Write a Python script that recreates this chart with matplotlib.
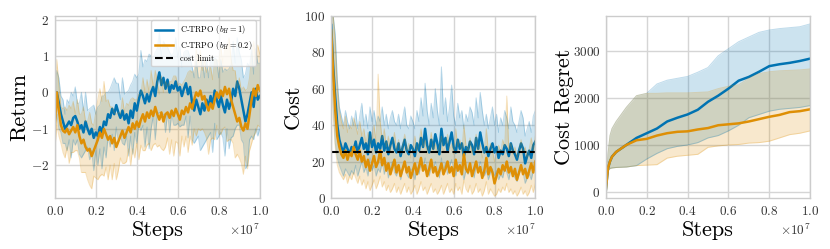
import numpy as np
import matplotlib
matplotlib.use("Agg")
import matplotlib.pyplot as plt

# steps in units of 1e7
steps = np.linspace(0, 1, 101)

ret_blue = [-0.4, 0.0, -0.3, -0.6, -0.8, -1.0, -0.9, -0.8, -0.9, -0.7,
            -0.65, -0.8, -1.0, -0.9, -1.1, -0.8, -1.0, -1.15, -1.0, -1.25,
            -1.1, -1.2, -0.95, -1.1, -0.8, -0.9, -0.6, -0.7, -0.45, -0.6,
            -0.35, -0.55, -0.7, -0.5, -0.75, -0.6, -0.85, -0.5, -0.7, -0.3,
            -0.5, -0.2, 0.05, -0.1, -0.3, -0.05, -0.25, 0.0, 0.15, -0.1,
            0.3, 0.55, 0.2, 0.4, 0.1, 0.35, 0.0, 0.2, 0.1, 0.3,
            0.05, 0.15, -0.1, 0.1, 0.25, -0.05, 0.15, -0.3, -0.5, -0.2,
            -0.4, -0.6, -0.3, -0.5, -0.2, -0.4, -0.1, -0.35, 0.05, -0.2,
            -0.4, -0.1, -0.35, -0.55, -0.2, -0.45, -0.25, 0.1, -0.1, 0.3,
            0.1, -0.2, -0.5, -0.8, -0.6, -0.3, 0.0, -0.4, 0.1, -0.2,
            -0.1]
ret_blue_spread = [0.5, 0.6, 0.7, 0.5, 0.6, 0.4, 0.7, 0.5, 0.9, 0.6,
                   0.8, 0.5, 0.7, 0.9, 0.6, 0.8, 0.5, 0.7, 0.6, 0.9,
                   0.5, 0.8, 0.6, 1.0, 0.7, 0.9, 0.6, 0.8, 0.7, 1.0,
                   0.6, 0.8, 0.5, 0.9, 0.7, 0.6, 0.9, 0.7, 1.0, 0.8,
                   0.9, 0.7, 1.1, 0.8, 1.2, 0.9, 1.3, 1.0, 0.8, 1.2,
                   0.9, 1.1, 0.8, 1.0, 1.2, 0.9, 1.1, 0.8, 1.0, 1.2,
                   0.9, 1.1, 0.8, 1.0, 0.9, 1.2, 0.8, 1.0, 0.9, 1.1,
                   0.8, 1.0, 1.2, 0.9, 1.1, 0.8, 1.0, 1.3, 0.9, 1.1,
                   0.8, 1.0, 0.9, 1.2, 0.8, 1.1, 1.0, 1.3, 0.9, 1.2,
                   1.0, 1.1, 0.9, 1.3, 1.4, 1.0, 1.2, 0.9, 1.1, 1.0,
                   0.9]
ret_orange = [-1.0, 0.0, -0.5, -0.9, -1.05, -1.1, -1.0, -1.15, -1.05, -0.95,
              -1.1, -0.9, -1.2, -1.4, -1.3, -1.5, -1.6, -1.55, -1.75, -1.6,
              -1.45, -1.3, -1.1, -1.25, -1.0, -1.15, -1.3, -1.2, -1.4, -1.25,
              -1.5, -1.35, -1.2, -1.05, -1.25, -1.1, -0.95, -1.1, -0.85, -1.0,
              -0.8, -0.95, -0.75, -0.6, -0.8, -0.55, -0.7, -0.5, -0.65, -0.4,
              -0.6, -0.75, -0.55, -0.8, -0.6, -0.55, -0.7, -0.5, -0.65, -0.45,
              -0.6, -0.75, -0.5, -0.6, -0.4, -0.55, -0.3, -0.45, -0.2, 0.0,
              -0.1, 0.05, -0.2, -0.1, -0.35, -0.5, -0.3, -0.45, -0.2, 0.0,
              -0.15, 0.05, -0.1, 0.15, -0.05, 0.1, -0.2, -0.4, -0.6, -0.8,
              -0.7, -0.95, -1.05, -0.85, -1.0, -0.6, -0.2, 0.1, -0.1, 0.2,
              0.05]
ret_orange_spread = [0.6, 0.9, 0.7, 0.5, 0.6, 0.7, 0.5, 0.8, 0.6, 0.7,
                     0.5, 0.7, 0.6, 0.8, 0.9, 0.7, 0.8, 1.0, 0.9, 0.7,
                     0.9, 1.1, 1.2, 1.0, 1.3, 0.9, 1.1, 0.8, 1.0, 0.7,
                     0.9, 0.8, 0.6, 0.9, 0.7, 0.8, 0.6, 0.9, 0.7, 0.8,
                     0.6, 0.9, 0.7, 1.0, 0.8, 0.9, 0.7, 1.1, 0.8, 1.0,
                     0.9, 0.7, 1.0, 0.8, 0.9, 0.7, 1.0, 0.8, 1.1, 0.9,
                     0.8, 1.0, 0.7, 0.9, 0.8, 1.1, 0.9, 1.0, 0.8, 1.2,
                     0.9, 1.1, 0.8, 1.0, 0.9, 1.2, 1.0, 0.8, 1.1, 0.9,
                     1.0, 1.2, 0.9, 1.1, 1.3, 1.4, 1.1, 1.0, 1.2, 0.9,
                     1.1, 1.0, 1.2, 0.9, 1.1, 1.0, 1.2, 1.3, 1.0, 1.1,
                     1.0]

cost_blue = [95, 72, 55, 40, 32, 28, 25, 30, 27, 24,
             28, 26, 31, 25, 29, 33, 27, 30, 24, 36,
             28, 32, 25, 30, 27, 34, 26, 31, 24, 29,
             33, 27, 25, 30, 23, 28, 32, 26, 24, 29,
             27, 23, 30, 26, 33, 28, 38, 29, 25, 32,
             27, 35, 30, 24, 38, 29, 33, 26, 31, 36,
             28, 25, 32, 27, 30, 23, 28, 26, 31, 29,
             24, 33, 27, 36, 30, 25, 28, 23, 27, 30,
             25, 28, 22, 26, 24, 29, 27, 23, 30, 26,
             24, 21, 26, 30, 27, 19, 23, 26, 22, 29,
             31]
cost_blue_hi = [100, 100, 90, 65, 50, 45, 40, 48, 42, 38,
                45, 40, 48, 38, 45, 52, 40, 46, 38, 50,
                42, 48, 40, 45, 42, 50, 40, 46, 38, 44,
                48, 42, 40, 46, 38, 44, 50, 40, 38, 45,
                42, 38, 48, 42, 55, 45, 63, 48, 40, 52,
                44, 60, 48, 40, 72, 46, 55, 42, 50, 62,
                45, 40, 52, 44, 48, 38, 46, 42, 50, 47,
                40, 55, 44, 58, 48, 40, 46, 38, 44, 50,
                40, 46, 36, 44, 40, 48, 44, 38, 50, 42,
                40, 36, 42, 48, 44, 34, 38, 42, 36, 45,
                48]
cost_blue_lo = [85, 50, 30, 22, 18, 15, 12, 16, 14, 12,
                15, 13, 18, 12, 16, 20, 14, 17, 12, 22,
                15, 18, 12, 16, 14, 20, 13, 18, 11, 16,
                20, 14, 12, 17, 10, 15, 19, 13, 11, 16,
                14, 10, 17, 13, 19, 15, 22, 16, 12, 18,
                14, 20, 16, 11, 22, 15, 19, 13, 17, 21,
                15, 12, 18, 14, 16, 10, 15, 13, 17, 15,
                11, 18, 14, 20, 16, 12, 15, 10, 14, 16,
                12, 15, 10, 13, 11, 16, 14, 10, 16, 13,
                11, 9, 13, 16, 14, 8, 11, 13, 10, 15,
                17]
cost_orange = [92, 68, 48, 34, 28, 24, 22, 26, 21, 25,
               23, 28, 24, 21, 26, 20, 23, 17, 21, 15,
               19, 23, 17, 20, 26, 18, 22, 15, 19, 13,
               17, 21, 14, 18, 12, 16, 20, 14, 17, 11,
               15, 19, 13, 17, 22, 15, 18, 12, 16, 21,
               14, 17, 12, 15, 19, 13, 16, 20, 14, 17,
               12, 21, 15, 18, 13, 24, 16, 14, 19, 12,
               16, 20, 14, 17, 11, 15, 22, 13, 17, 14,
               8, 12, 16, 13, 18, 15, 20, 14, 17, 12,
               16, 10, 14, 18, 13, 16, 11, 15, 19, 14,
               20]
cost_orange_hi = [100, 100, 85, 60, 48, 42, 38, 45, 36, 40,
                  38, 44, 40, 35, 42, 34, 38, 30, 36, 28,
                  34, 40, 30, 68, 42, 32, 38, 28, 34, 26,
                  30, 36, 26, 32, 24, 29, 35, 26, 30, 22,
                  27, 34, 25, 30, 38, 28, 32, 24, 29, 36,
                  26, 30, 24, 28, 34, 25, 29, 35, 26, 30,
                  24, 38, 28, 32, 25, 40, 29, 26, 33, 24,
                  28, 35, 26, 30, 22, 27, 38, 25, 30, 26,
                  20, 24, 29, 25, 32, 28, 56, 26, 30, 24,
                  28, 22, 26, 32, 25, 28, 22, 27, 33, 26,
                  34]
cost_orange_lo = [80, 45, 28, 18, 14, 12, 10, 13, 8, 12,
                  10, 14, 11, 8, 12, 7, 10, 5, 9, 4,
                  7, 10, 5, 8, 12, 6, 9, 4, 7, 3,
                  5, 8, 3, 6, 2, 5, 8, 3, 6, 2,
                  4, 7, 2, 5, 9, 4, 6, 2, 5, 8,
                  3, 5, 2, 4, 7, 2, 5, 8, 3, 5,
                  2, 8, 4, 6, 2, 10, 5, 3, 7, 2,
                  4, 8, 3, 5, 1, 4, 9, 2, 5, 3,
                  1, 2, 5, 3, 6, 4, 8, 3, 5, 2,
                  4, 1, 3, 6, 2, 4, 1, 3, 7, 3,
                  8]
cost_limit = 25

reg_steps = [0, 0.01, 0.02, 0.03, 0.05, 0.1, 0.15, 0.2, 0.25, 0.3, 0.35, 0.4,
             0.45, 0.5, 0.55, 0.6, 0.65, 0.7, 0.75, 0.8, 0.85, 0.9, 0.95, 1.0]
reg_blue = [50, 500, 650, 750, 850, 1000, 1150, 1250, 1350, 1500, 1580, 1650,
            1750, 1920, 2050, 2200, 2370, 2450, 2560, 2680, 2720, 2750, 2790, 2840]
reg_blue_hi = [50, 800, 1200, 1350, 1500, 1800, 2050, 2100, 2300, 2380, 2420, 2460,
               2550, 2650, 2900, 3050, 3200, 3300, 3400, 3450, 3480, 3500, 3520, 3580]
reg_blue_lo = [50, 450, 500, 510, 520, 530, 560, 700, 820, 920, 970, 1000,
               1050, 1150, 1200, 1300, 1420, 1580, 1650, 1720, 1760, 1780, 1800, 1840]
reg_orange = [50, 500, 650, 750, 850, 1000, 1100, 1130, 1200, 1250, 1280, 1290,
              1330, 1360, 1420, 1440, 1460, 1500, 1550, 1600, 1640, 1700, 1720, 1760]
reg_orange_hi = [50, 800, 1200, 1350, 1500, 1800, 2050, 2100, 2100, 2110, 2110, 2110,
                 2120, 2130, 2200, 2250, 2280, 2420, 2520, 2560, 2580, 2590, 2600, 2620]
reg_orange_lo = [50, 450, 500, 510, 520, 530, 560, 570, 580, 720, 760, 780,
                 800, 950, 980, 1000, 1010, 1040, 1050, 1080, 1150, 1220, 1250, 1300]

BLUE = '#0173b2'
ORANGE = '#de8f05'

plt.rcParams['font.family'] = 'serif'
plt.rcParams['font.serif'] = ['cmr10']
plt.rcParams['mathtext.fontset'] = 'cm'
plt.rcParams['axes.formatter.use_mathtext'] = True
plt.rcParams['axes.edgecolor'] = '#cccccc'
plt.rcParams['axes.linewidth'] = 1.0
plt.rcParams['grid.color'] = '#d5d5d5'
plt.rcParams['xtick.color'] = '#333333'
plt.rcParams['ytick.color'] = '#333333'
plt.rcParams['xtick.labelsize'] = 9.5
plt.rcParams['ytick.labelsize'] = 9.5
plt.rcParams['xtick.major.size'] = 0
plt.rcParams['ytick.major.size'] = 0


def band(ax, x, mean, lo, hi, color):
    x = np.asarray(x) * 1e7
    ax.fill_between(x, lo, hi, color=color, alpha=0.2, lw=0)
    ax.plot(x, lo, color=color, alpha=0.25, lw=0.7)
    ax.plot(x, hi, color=color, alpha=0.25, lw=0.7)
    line, = ax.plot(x, mean, color=color, lw=1.8)
    return line


fig = plt.figure(figsize=(8.3, 2.49), dpi=100)
ax1 = fig.add_axes([0.066, 0.205, 0.247, 0.731])
ax2 = fig.add_axes([0.399, 0.205, 0.246, 0.731])
ax3 = fig.add_axes([0.730, 0.205, 0.246, 0.731])

rb = np.array(ret_blue)
ro = np.array(ret_orange)
l1 = band(ax1, steps, rb, rb - np.array(ret_blue_spread), rb + np.array(ret_blue_spread), BLUE)
l2 = band(ax1, steps, ro, ro - np.array(ret_orange_spread), ro + np.array(ret_orange_spread), ORANGE)
l3, = ax1.plot([], [], color='black', ls='--', lw=1.5)
ax1.set_ylim(-2.9, 2.1)
ax1.set_yticks([-2, -1, 0, 1, 2])
ax1.set_ylabel('Return', fontsize=16, labelpad=1)
ax1.legend([l1, l2, l3], [r'C-TRPO ($b_H = 1$)', r'C-TRPO ($b_H = 0.2$)', 'cost limit'],
           loc='upper right', fontsize=6, frameon=True, framealpha=0.8,
           borderpad=0.4, handlelength=2.2, labelspacing=0.3,
           bbox_to_anchor=(1.0, 1.0))

band(ax2, steps, cost_blue, cost_blue_lo, cost_blue_hi, BLUE)
band(ax2, steps, cost_orange, cost_orange_lo, cost_orange_hi, ORANGE)
ax2.axhline(cost_limit, color='black', ls='--', lw=1.5)
ax2.set_ylim(0, 100)
ax2.set_ylabel('Cost', fontsize=16, labelpad=1)

band(ax3, reg_steps, reg_blue, reg_blue_lo, reg_blue_hi, BLUE)
band(ax3, reg_steps, reg_orange, reg_orange_lo, reg_orange_hi, ORANGE)
ax3.set_ylim(-130, 3750)
ax3.set_yticks([0, 1000, 2000, 3000])
ax3.set_ylabel('Cost Regret', fontsize=16, labelpad=-1)

for ax in (ax1, ax2, ax3):
    ax.set_xlim(0, 1e7)
    ax.set_xticks([0, 0.2e7, 0.4e7, 0.6e7, 0.8e7, 1e7])
    ax.grid(True, lw=1.0)
    ax.set_axisbelow(True)
    ax.set_xlabel('Steps', fontsize=16, labelpad=2)
    ax.xaxis.get_offset_text().set_fontsize(9.5)
    ax.tick_params(axis='x', pad=5)
    ax.tick_params(axis='y', pad=4)

fig.savefig('out.png', dpi=100)
